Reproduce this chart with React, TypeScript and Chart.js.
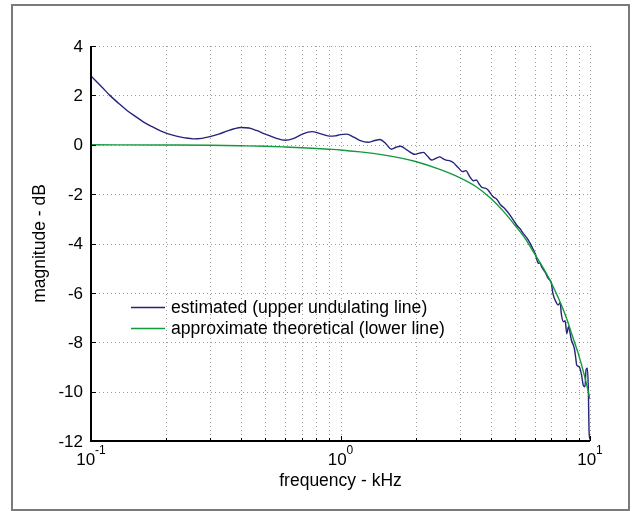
import React, { useEffect, useRef } from 'react';
import { Chart, registerables } from 'chart.js';

Chart.register(...registerables);

const W = 636;
const H = 511;
const FONT = '"Liberation Sans", Arial, Helvetica, sans-serif';

// Estimated response (upper undulating line)
const estFreq = [
  0.1, 0.11, 0.119, 0.129, 0.139, 0.15, 0.162, 0.175, 0.189, 0.204, 0.22, 0.238, 0.257, 0.278, 0.3,
  0.325, 0.35, 0.375, 0.4, 0.43, 0.46, 0.5, 0.55, 0.6, 0.65, 0.7, 0.767, 0.83, 0.9, 0.95,
  1.0, 1.06, 1.13, 1.2, 1.29, 1.37, 1.44, 1.52, 1.6, 1.67, 1.74, 1.85, 1.99, 2.07, 2.15,
  2.23, 2.32, 2.41, 2.5, 2.58, 2.65, 2.75, 2.83, 2.96, 3.09, 3.18, 3.3, 3.41, 3.5, 3.6,
  3.68, 3.8, 3.91, 4.08, 4.23, 4.39, 4.55, 4.78, 4.93, 5.08, 5.24, 5.4, 5.66, 5.89, 6.05,
  6.2, 6.3, 6.4, 6.6, 6.8, 7.0, 7.1, 7.35, 7.45, 7.6, 7.67, 7.83, 7.95, 8.07, 8.2,
  8.42, 8.65, 8.77, 8.84, 9.05, 9.25, 9.39, 9.55, 9.64, 9.76, 9.85, 9.91, 10.0,
];
const estMag = [
  2.78, 2.36, 2.0, 1.68, 1.4, 1.16, 0.93, 0.74, 0.57, 0.44, 0.35, 0.28, 0.24, 0.26, 0.33,
  0.43, 0.55, 0.65, 0.7, 0.68, 0.58, 0.43, 0.27, 0.18, 0.26, 0.42, 0.53, 0.45, 0.35, 0.36,
  0.41, 0.43, 0.31, 0.17, 0.1, 0.17, 0.21, 0.04, -0.18, -0.1, -0.06, -0.22, -0.39, -0.34, -0.31,
  -0.46, -0.62, -0.55, -0.49, -0.57, -0.62, -0.65, -0.72, -0.92, -1.09, -1.05, -1.3, -1.46, -1.43, -1.6,
  -1.72, -1.76, -1.84, -2.1, -2.21, -2.44, -2.58, -2.85, -3.05, -3.25, -3.4, -3.59, -3.86, -4.19, -4.45,
  -4.8, -4.78, -4.95, -5.15, -5.41, -5.6, -6.02, -6.42, -6.49, -6.4, -6.83, -7.17, -7.13, -7.64, -7.37,
  -7.91, -8.24, -8.65, -8.92, -8.99, -9.32, -9.73, -9.8, -9.12, -9.05, -9.93, -11.55, -11.95,
];

// Approximate theoretical response (lower line)
const theoFreq = [
  0.1, 0.2, 0.3, 0.4, 0.5, 0.6, 0.7, 0.8, 0.9, 1.0, 1.2, 1.5, 1.75, 2.0, 2.5,
  3.0, 3.5, 4.0, 4.5, 5.0, 5.5, 6.0, 6.5, 7.0, 7.5, 8.0, 8.5, 9.0, 9.5, 10.0,
];
const theoMag = [
  0, -0.01, -0.02, -0.04, -0.06, -0.09, -0.12, -0.15, -0.18, -0.21, -0.29, -0.42, -0.54, -0.68, -1.0,
  -1.33, -1.7, -2.17, -2.7, -3.26, -3.8, -4.42, -5.0, -5.6, -6.25, -6.95, -7.75, -8.5, -9.35, -10.3,
];

const yTicks = [-12, -10, -8, -6, -4, -2, 0, 2, 4];
const xMajorTicks = [0.1, 1, 10];
const xMajorExp = ['-1', '0', '1'];
const xMinorTicks = [
  0.2, 0.3, 0.4, 0.5, 0.6, 0.7, 0.8, 0.9, 2, 3, 4, 5, 6, 7, 8, 9,
];
const seriesLabels = ['estimated (upper undulating line)', 'approximate theoretical (lower line)'];
const seriesColors = ['#26237d', '#12993c'];
const xTitle = 'frequency - kHz';
const yTitle = 'magnitude - dB';

const decorPlugin = {
  id: 'decor',
  beforeDraw(chart: any) {
    const ctx = chart.ctx;
    ctx.save();
    ctx.fillStyle = '#ffffff';
    ctx.fillRect(0, 0, chart.width, chart.height);
    ctx.strokeStyle = '#7a7a7a';
    ctx.lineWidth = 2;
    ctx.strokeRect(12, 5, 617, 505);
    ctx.restore();
  },
  beforeDatasetsDraw(chart: any) {
    const ctx = chart.ctx;
    const { left, right, top, bottom } = chart.chartArea;
    const xs = chart.scales.x;
    const ys = chart.scales.y;
    ctx.save();
    ctx.strokeStyle = 'rgba(0,0,0,0.38)';
    ctx.lineWidth = 1;
    ctx.setLineDash([1, 3]);
    for (const v of yTicks) {
      if (v === -12) continue;
      const y = Math.round(ys.getPixelForValue(v)) + 0.5;
      ctx.beginPath();
      ctx.moveTo(left, y);
      ctx.lineTo(right, y);
      ctx.stroke();
    }
    for (const v of [...xMinorTicks, 1, 10]) {
      const x = Math.round(xs.getPixelForValue(v)) + 0.5;
      ctx.beginPath();
      ctx.moveTo(x, top);
      ctx.lineTo(x, bottom);
      ctx.stroke();
    }
    ctx.restore();
  },
  afterDatasetsDraw(chart: any) {
    const ctx = chart.ctx;
    const { left, right, top, bottom } = chart.chartArea;
    const xs = chart.scales.x;
    const ys = chart.scales.y;
    ctx.save();
    // axes lines
    ctx.strokeStyle = '#000';
    ctx.lineWidth = 2;
    ctx.setLineDash([]);
    ctx.beginPath();
    ctx.moveTo(left, top);
    ctx.lineTo(left, bottom);
    ctx.lineTo(right, bottom);
    ctx.stroke();
    // y ticks
    ctx.lineWidth = 1;
    for (const v of yTicks) {
      const y = Math.round(ys.getPixelForValue(v)) + 0.5;
      ctx.beginPath();
      ctx.moveTo(left, y);
      ctx.lineTo(left + 5, y);
      ctx.stroke();
    }
    // x ticks
    for (const v of xMajorTicks) {
      const x = Math.round(xs.getPixelForValue(v)) + 0.5;
      ctx.beginPath();
      ctx.moveTo(x, bottom);
      ctx.lineTo(x, bottom - 5);
      ctx.stroke();
    }
    for (const v of xMinorTicks) {
      const x = Math.round(xs.getPixelForValue(v)) + 0.5;
      ctx.beginPath();
      ctx.moveTo(x, bottom);
      ctx.lineTo(x, bottom - 3);
      ctx.stroke();
    }
    // y tick labels
    ctx.fillStyle = '#000';
    ctx.font = `17px ${FONT}`;
    ctx.textAlign = 'right';
    ctx.textBaseline = 'middle';
    for (const v of yTicks) {
      ctx.fillText(String(v), left - 8, ys.getPixelForValue(v) + 1);
    }
    // x tick labels with superscript exponents
    xMajorTicks.forEach((v, i) => {
      const x = xs.getPixelForValue(v);
      ctx.font = `17px ${FONT}`;
      const baseW = ctx.measureText('10').width;
      ctx.font = `12px ${FONT}`;
      const expW = ctx.measureText(xMajorExp[i]).width;
      const start = x - (baseW + expW) / 2;
      ctx.textAlign = 'left';
      ctx.textBaseline = 'middle';
      ctx.font = `17px ${FONT}`;
      ctx.fillText('10', start, bottom + 19);
      ctx.font = `12px ${FONT}`;
      ctx.fillText(xMajorExp[i], start + baseW, bottom + 10);
    });
    // axis titles
    ctx.font = `17.5px ${FONT}`;
    ctx.textAlign = 'center';
    ctx.textBaseline = 'middle';
    ctx.fillText(xTitle, (left + right) / 2, bottom + 40);
    ctx.save();
    ctx.translate(40, (top + bottom) / 2);
    ctx.rotate(-Math.PI / 2);
    ctx.fillText(yTitle, 0, 0);
    ctx.restore();
    // legend
    const legendRows = [307, 328];
    seriesLabels.forEach((label, i) => {
      const y = legendRows[i];
      ctx.strokeStyle = seriesColors[i];
      ctx.lineWidth = 1.4;
      ctx.beginPath();
      ctx.moveTo(131, y + 0.5);
      ctx.lineTo(165, y + 0.5);
      ctx.stroke();
      ctx.fillStyle = '#000';
      ctx.font = `17.6px ${FONT}`;
      ctx.textAlign = 'left';
      ctx.textBaseline = 'middle';
      ctx.fillText(label, 171, y + 1);
    });
    ctx.restore();
  },
};

export default function App() {
  const canvasRef = useRef<HTMLCanvasElement | null>(null);

  useEffect(() => {
    const canvas = canvasRef.current;
    if (!canvas) return;
    const estData = estFreq.map((f, i) => ({ x: f, y: estMag[i] }));
    const theoData = theoFreq.map((f, i) => ({ x: f, y: theoMag[i] }));
    const chart = new Chart(canvas, {
      type: 'line',
      data: {
        datasets: [
          {
            label: seriesLabels[1],
            data: theoData,
            borderColor: seriesColors[1],
            borderWidth: 1.4,
            pointRadius: 0,
            fill: false,
            cubicInterpolationMode: 'monotone',
          },
          {
            label: seriesLabels[0],
            data: estData,
            borderColor: seriesColors[0],
            borderWidth: 1.4,
            pointRadius: 0,
            fill: false,
            cubicInterpolationMode: 'monotone',
          },
        ],
      },
      options: {
        responsive: false,
        animation: false,
        devicePixelRatio: 1,
        layout: { padding: { left: 91, top: 46, right: 46, bottom: 70 } },
        plugins: {
          legend: { display: false },
          tooltip: { enabled: false },
          title: { display: false },
        },
        scales: {
          x: { type: 'logarithmic', min: 0.1, max: 10, display: false },
          y: { type: 'linear', min: -12, max: 4, display: false },
        },
      },
      plugins: [decorPlugin],
    } as any);
    return () => chart.destroy();
  }, []);

  return (
    <div style={{ position: 'fixed', left: 0, top: 0, width: W, height: H, background: '#fff' }}>
      <canvas ref={canvasRef} width={W} height={H} style={{ width: W, height: H, display: 'block' }} />
    </div>
  );
}
